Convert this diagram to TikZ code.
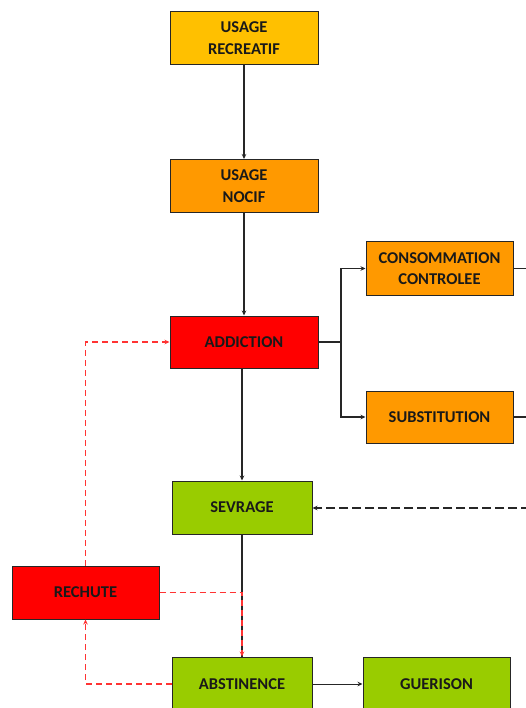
\documentclass[tikz,border=0pt]{standalone}
\usepackage{fontspec}
\setmainfont{Carlito}
\usetikzlibrary{arrows.meta}
\definecolor{cgold}{HTML}{FFC000}
\definecolor{corange}{HTML}{FF9900}
\definecolor{cred}{HTML}{FF0000}
\definecolor{cgreen}{HTML}{99CC00}
\begin{document}
\begin{tikzpicture}[x=1pt,y=-1pt,
  box/.style={draw=black!85, line width=1pt, align=center, inner sep=0pt,
    font=\fontsize{16.5}{21.5}\selectfont\bfseries, text=black!90},
  wbox/.style={box, minimum width=148pt, minimum height=53pt},
  nbox/.style={box, minimum width=140pt, minimum height=53pt},
  conn/.style={draw=black!85, line width=1.5pt},
  arr/.style={conn, -{Stealth[length=5pt,width=4.5pt]}},
  rdash/.style={draw=cred!80, line width=1.8pt, dash pattern=on 6pt off 4pt},
  rarr/.style={rdash, -{Stealth[length=5pt,width=4.5pt]}}
]
\clip (0,0) rectangle (526,708);
\fill[white] (0,0) rectangle (526,708);

\node[wbox, fill=cgold] (rec) at (244,38) {USAGE\\RECREATIF};
\node[wbox, fill=corange] (noc) at (244,186) {USAGE\\NOCIF};
\node[wbox, fill=cred, minimum height=52pt] (add) at (244,342) {ADDICTION};
\node[wbox, fill=corange, minimum width=147pt] (cons) at (439.5,268.5) {CONSOMMATION\\CONTROLEE};
\node[wbox, fill=corange, minimum width=147pt, minimum height=52pt] (sub) at (439.5,417) {SUBSTITUTION};
\node[nbox, fill=cgreen] (sev) at (242,507.5) {SEVRAGE};
\node[wbox, fill=cred, minimum width=147pt] (rech) at (85.5,592.5) {RECHUTE};
\node[nbox, fill=cgreen, minimum height=54pt] (abs) at (242,684) {ABSTINENCE};
\node[wbox, fill=cgreen, minimum width=147pt, minimum height=54pt] (gue) at (436.5,684) {GUERISON};

\coordinate (j) at (341,342);
\coordinate (ce) at (530,268.5);
\coordinate (se) at (530,417);
\coordinate (de) at (530,508);

\draw[arr] (rec.south) -- (noc.north);
\draw[arr] (noc.south) -- (add.north);
\draw[arr] (add.south -| sev.north) -- (sev.north);
\draw[conn] (add.east) -- (j);
\draw[arr] (j) |- (cons.west);
\draw[arr] (j) |- (sub.west);
\draw[conn] (cons.east) -- (ce);
\draw[conn] (sub.east) -- (se);
\draw[draw=black!85, line width=1.6pt, dash pattern=on 9pt off 4pt, -{Stealth[length=5pt,width=4.5pt]}] (de) -- (sev.east |- de);
\draw[conn] (sev.south) -- (abs.north);
\draw[draw=black!85, line width=1pt, -{Stealth[length=5pt,width=4.5pt]}] (abs.east) -- (gue.west);

\draw[rarr] (rech.east) -| (abs.north);
\draw[rarr] (abs.west) -| (rech.south);
\draw[rarr] (rech.north) |- (add.west);
\end{tikzpicture}
\end{document}
